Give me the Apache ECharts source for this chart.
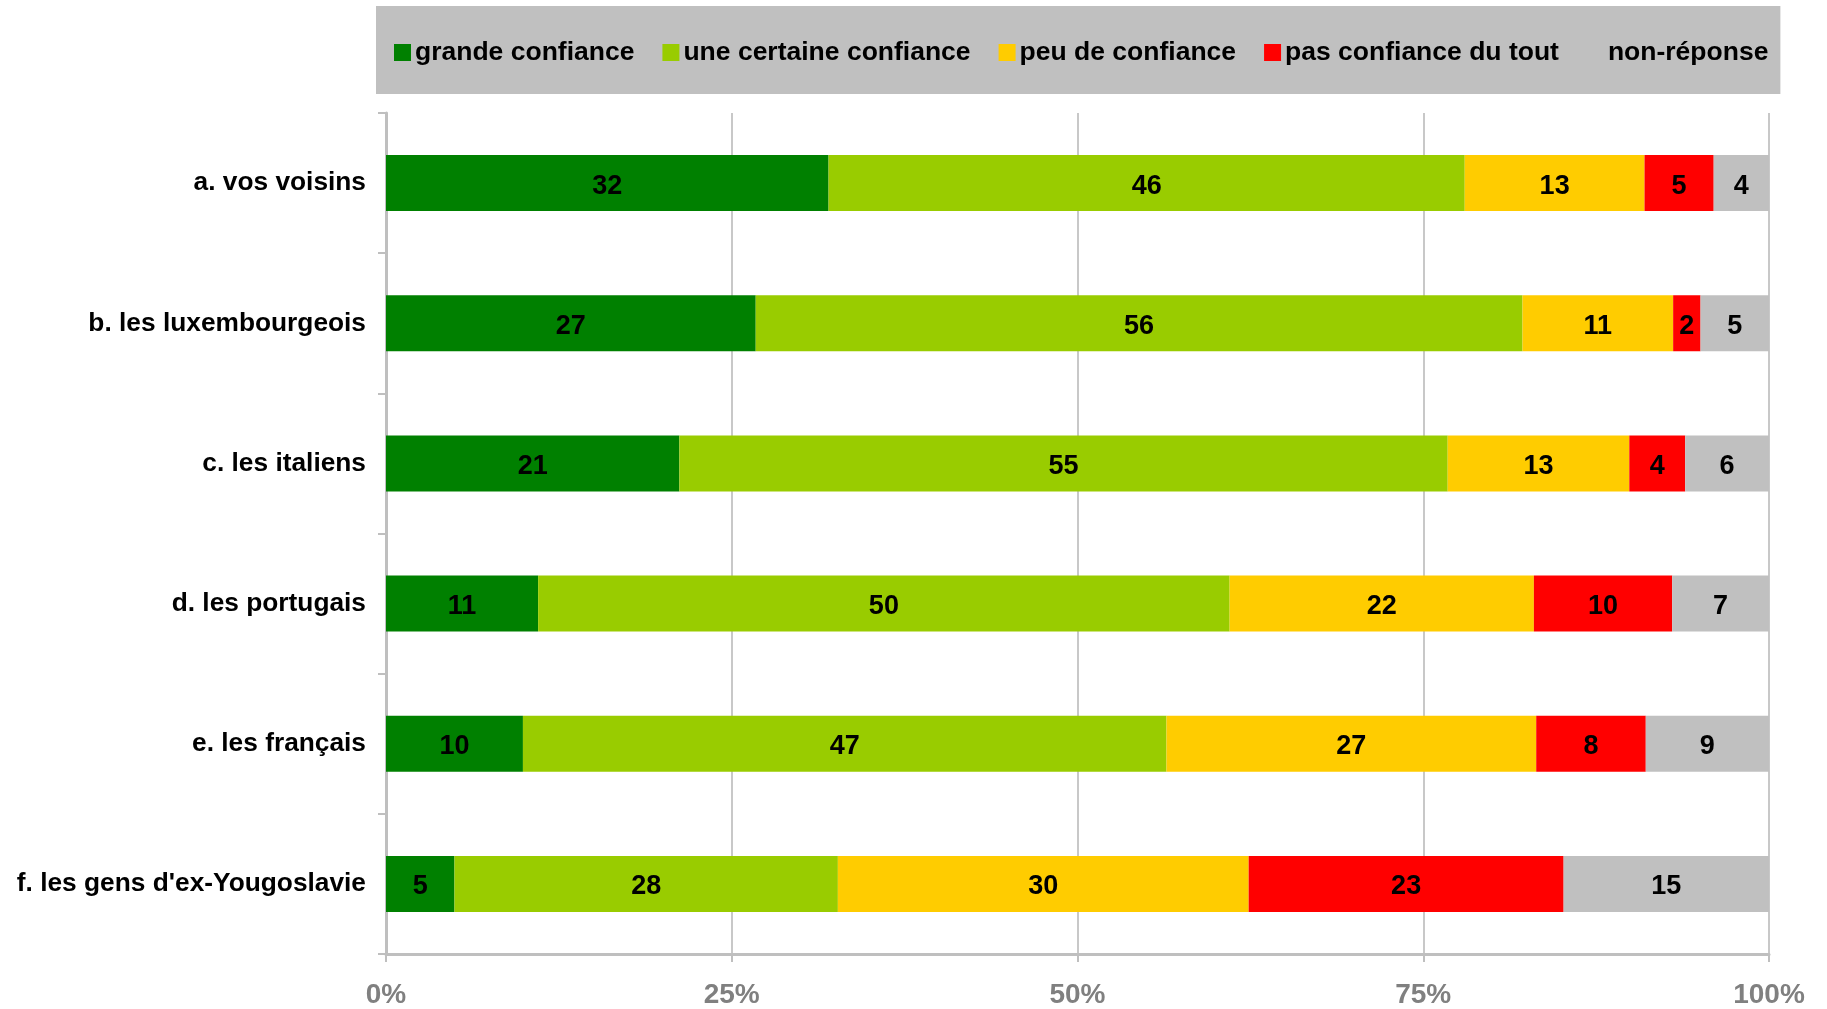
<!DOCTYPE html>
<html>
<head>
<meta charset="utf-8">
<title>Confiance</title>
<script src="https://cdn.jsdelivr.net/npm/echarts@6/dist/echarts.min.js"></script>
<style>
  html, body { margin: 0; padding: 0; background: #fff; }
  #chart { width: 1827px; height: 1009px; }
</style>
</head>
<body>
<div id="chart"></div>
<script>
// Groups asked about, top to bottom
const categories = [
  'a. vos voisins',
  'b. les luxembourgeois',
  'c. les italiens',
  'd. les portugais',
  'e. les français',
  "f. les gens d'ex-Yougoslavie"
];

// Answer levels (percent of respondents per group)
const grandeConfiance   = [32, 27, 21, 11, 10, 5];
const certaineConfiance = [46, 56, 55, 50, 47, 28];
const peuConfiance      = [13, 11, 13, 22, 27, 30];
const pasConfiance      = [5, 2, 4, 10, 8, 23];
const nonReponse        = [4, 5, 6, 7, 9, 15];

const xTicks = [0, 25, 50, 75, 100];

const seriesDefs = [
  { name: 'grande confiance',        values: grandeConfiance,   color: '#008000' },
  { name: 'une certaine confiance',  values: certaineConfiance, color: '#99CC00' },
  { name: 'peu de confiance',        values: peuConfiance,      color: '#FFCC00' },
  { name: 'pas confiance du tout',   values: pasConfiance,      color: '#FF0000' },
  { name: 'non-réponse',             values: nonReponse,        color: '#C0C0C0' }
];

// 100 % stacked: each row is scaled by its own total, labels keep the rounded figures
const rowTotals = categories.map((_, i) =>
  seriesDefs.reduce((s, d) => s + d.values[i], 0));

const FONT = '"Liberation Sans", Arial, Helvetica, sans-serif';
const GRID_COLOR = '#C8C8C8';
const AXIS_COLOR = '#BFBFBF';

const chart = echarts.init(document.getElementById('chart'), null, { renderer: 'canvas' });

chart.setOption({
  animation: false,
  backgroundColor: '#ffffff',
  textStyle: { fontFamily: FONT },
  legend: {
    left: 376,
    top: 6,
    orient: 'horizontal',
    backgroundColor: '#C0C0C0',
    padding: [33, 12, 28, 18],
    itemWidth: 17,
    itemHeight: 17,
    itemGap: 28,
    icon: 'rect',
    selectedMode: false,
    textStyle: {
      fontFamily: FONT,
      fontWeight: 'bold',
      fontSize: 26.5,
      color: '#000',
      padding: [0, 0, 0, -1]
    },
    data: seriesDefs.map(d => d.name)
  },
  grid: {
    left: 386,
    right: 58,
    top: 113,
    bottom: 52,
    containLabel: false
  },
  xAxis: {
    type: 'value',
    min: xTicks[0],
    max: xTicks[xTicks.length - 1],
    interval: 25,
    axisLine: { show: true, lineStyle: { color: AXIS_COLOR, width: 3 } },
    axisTick: { show: true, length: 8, lineStyle: { color: AXIS_COLOR, width: 2 } },
    splitLine: { show: true, lineStyle: { color: GRID_COLOR, width: 2 } },
    axisLabel: {
      margin: 27,
      fontFamily: FONT,
      fontWeight: 'bold',
      fontSize: 28,
      color: '#808080',
      formatter: v => v + '%'
    }
  },
  yAxis: {
    type: 'category',
    inverse: true,
    data: categories,
    axisLine: { show: true, lineStyle: { color: AXIS_COLOR, width: 3 } },
    axisTick: { show: true, length: 8, lineStyle: { color: AXIS_COLOR, width: 2 } },
    splitLine: { show: false },
    axisLabel: {
      margin: 20,
      fontFamily: FONT,
      fontWeight: 'bold',
      fontSize: 26.3,
      color: '#000',
      padding: [8, 0, 0, 0]
    }
  },
  series: seriesDefs.map(d => ({
    name: d.name,
    type: 'bar',
    stack: 'total',
    barWidth: '40%',
    itemStyle: { color: d.color },
    emphasis: { disabled: true },
    label: {
      show: true,
      position: 'inside',
      offset: [0, 3],
      fontFamily: FONT,
      fontWeight: 'bold',
      fontSize: 27,
      color: '#000',
      formatter: p => String(p.data.raw)
    },
    data: d.values.map((v, i) => ({ value: v / rowTotals[i] * 100, raw: v }))
  }))
});
</script>
</body>
</html>
